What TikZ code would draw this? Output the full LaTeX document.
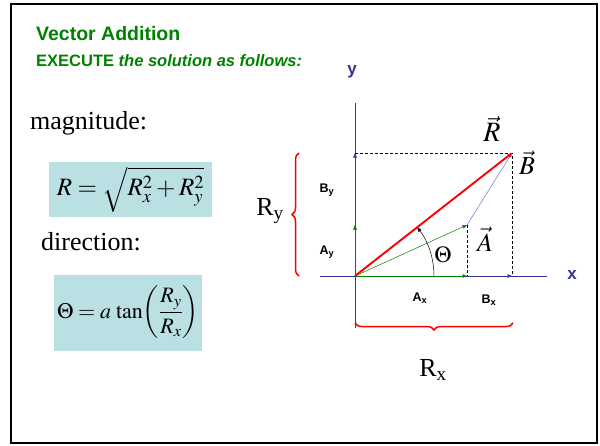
\documentclass[tikz,border=0pt]{standalone}
\usepackage{amsmath}
\usepackage{mathptmx}
\usepackage{fontspec}
\setmainfont{Liberation Serif}
\newfontfamily\arial{Liberation Sans}
\usepackage{tikz}
\usetikzlibrary{arrows.meta,positioning,calc,decorations.pathreplacing}

\definecolor{slidegreen}{RGB}{0,128,0}
\definecolor{axisblue}{RGB}{51,51,153}
\definecolor{bblue}{RGB}{110,110,210}
\definecolor{boxcyan}{RGB}{186,224,228}

\begin{document}
\begin{tikzpicture}[
  x=1pt, y=-1pt,
  >={Triangle[length=4.5pt,width=3.5pt]},
  title/.style={anchor=west, inner sep=0pt, text=slidegreen, font=\arial\bfseries\fontsize{19.5}{21}\selectfont},
  subttl/.style={anchor=west, inner sep=0pt, text=slidegreen, font=\arial\bfseries\fontsize{16.5}{18}\selectfont},
  word/.style={anchor=west, inner sep=0pt, font=\fontsize{26}{30}\selectfont},
  formula/.style={fill=boxcyan, inner sep=0pt},
  comp/.style={inner sep=0pt, font=\arial\bfseries\fontsize{12.5}{14}\selectfont},
  axlabel/.style={inner sep=0pt, text=axisblue, font=\arial\bfseries\fontsize{17}{19}\selectfont},
  vlabel/.style={inner sep=0pt, font=\fontsize{26}{30}\selectfont},
  sumlabel/.style={inner sep=0pt, font=\fontsize{26}{30}\selectfont},
  axis/.style={draw=axisblue, line width=0.8pt},
  guide/.style={densely dashed, line width=0.6pt},
  redbrace/.style={draw=red, line width=1.5pt, decorate, decoration={brace, amplitude=7pt}}
]
\useasboundingbox (0,0) rectangle (600,445);
\draw[line width=2pt] (11,4) rectangle (597,443);

% heading
\node[title] (head) at (36,34) {Vector Addition};
\node[subttl] (sub) at (36,61) {EXECUTE \textit{the solution as follows:}};

% formulas on the left
\node[word] (mag) at (30,123) {magnitude:};
\node[formula, minimum width=163pt, minimum height=55pt, font=\fontsize{25}{30}\selectfont] (eqR) at (130.5,189.5)
  {$R=\sqrt{R_x^2+R_y^2}$};
\node[word] (dir) at (41,242) {direction:};
\node[formula, minimum width=148pt, minimum height=76pt, font=\fontsize{22}{28}\selectfont] (eqT) at (128,312.5)
  {$\Theta = a\,\tan\!\left(\dfrac{R_y\vphantom{|}}{R_x\vphantom{|}}\right)$};

% points of the construction
\coordinate (O) at (355,276);
\coordinate (A) at (467,225);
\coordinate (R) at (512,153);
\coordinate (Ry) at (355,153);
\coordinate (Ay) at (355,225);
\coordinate (Ax) at (467,276);
\coordinate (Rx) at (512,276);

% axes
\draw[axis] (355,103) -- (355,328);
\draw[axis] (320,276) -- (547,276);
\node[axlabel] (ylab) at (352,72) {y};
\node[axlabel] (xlab) at (572,275) {x};

% dashed guides
\draw[guide] (Ry) -- (R) -- (Rx);
\draw[guide] (A) -- (Ax);

% components
\draw[->, axisblue, line width=0.8pt] (Ay) -- (Ry);
\draw[->, slidegreen, line width=0.8pt] (O) -- (Ay);
\draw[->, slidegreen, line width=0.8pt] (O) -- (Ax);
\draw[->, axisblue, line width=0.8pt] (Ax) -- (Rx);

% vectors
\draw[->, slidegreen, line width=0.5pt] (O) -- (A);
\draw[->, bblue, line width=0.5pt] (A) -- (R);
\draw[->, red, line width=1.9pt] (O) -- (R);

% angle
\draw[->, line width=0.5pt] ($(O)+(79,0)$) arc[start angle=0, end angle=-38, radius=79];
\node[inner sep=0pt, font=\fontsize{23}{26}\selectfont] (th) at (443,255) {$\Theta$};

% vector labels
\node[vlabel, font=\fontsize{28}{32}\selectfont] (lR) at (492,129) {$\vec{R}$};
\node[vlabel] (lB) at (527,163) {$\vec{B}$};
\node[vlabel] (lA) at (485,239) {$\vec{A}$};

% component labels
\node[comp] (By) at (327,190) {B\textsubscript{y}};
\node[comp] (Ay2) at (327,252) {A\textsubscript{y}};
\node[comp] (Ax2) at (420,298) {A\textsubscript{x}};
\node[comp] (Bx) at (489,300) {B\textsubscript{x}};

% braces
\draw[redbrace] (299,276) -- (299,153);
\draw[redbrace] (513,323) -- (355,323);
\node[sumlabel] (lRy) at (270,211) {R\textsubscript{y}};
\node[sumlabel] (lRx) at (433,370) {R\textsubscript{x}};
\end{tikzpicture}
\end{document}
